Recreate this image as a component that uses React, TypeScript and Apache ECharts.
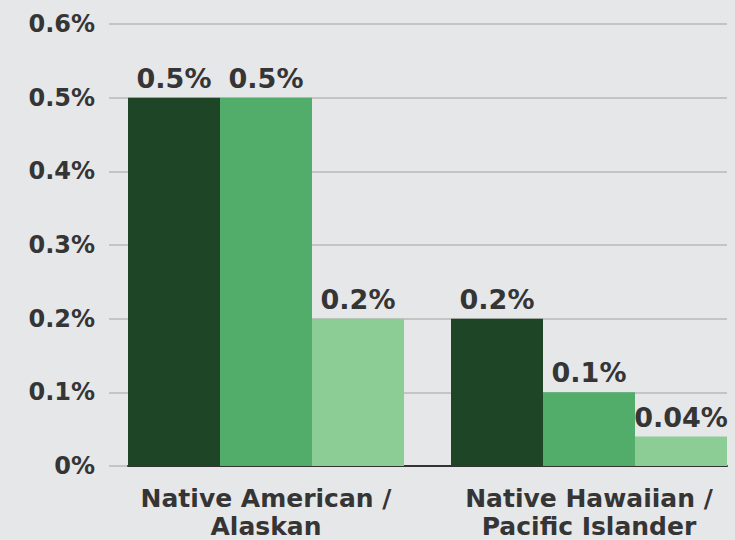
import React, { useEffect, useRef } from "react";
import * as echarts from "echarts";

const categories = ["Native American /\nAlaskan", "Native Hawaiian /\nPacific Islander"];
const seriesA = [0.5, 0.2];
const seriesB = [0.5, 0.1];
const seriesC = [0.2, 0.04];
const yTickLabels = ["0%", "0.1%", "0.2%", "0.3%", "0.4%", "0.5%", "0.6%"];

const colors = ["#1e4626", "#52ad6b", "#8bcd94"];
const textColor = "#353535";
const font = "DejaVu Sans";

export default function App() {
  const ref = useRef<HTMLDivElement>(null);
  useEffect(() => {
    document.body.style.margin = "0";
    const chart = echarts.init(ref.current!, null, { renderer: "svg" });
    const top = 24;
    const bottom = 74;
    const mkSeries = (name: string, data: number[], color: string) => ({
      name,
      type: "bar",
      xAxisIndex: 2,
      yAxisIndex: 2,
      data,
      barWidth: 92,
      barGap: "0%",
      itemStyle: { color },
      label: {
        show: true,
        position: "top",
        distance: 6,
        formatter: (p: any) => `${p.value}%`,
        color: textColor,
        fontFamily: font,
        fontWeight: "bold",
        fontSize: 27,
      },
    });
    chart.setOption({
      animation: false,
      backgroundColor: "#e6e7e9",
      grid: [
        { left: 109, right: 8, top, bottom, outerBoundsMode: "none" },
        { left: 128, right: 8, top, bottom, outerBoundsMode: "none" },
        { left: 104.5, width: 646, top, bottom, outerBoundsMode: "none" },
      ],
      xAxis: [
        { type: "category", gridIndex: 0, data: categories, show: false },
        {
          type: "category",
          gridIndex: 1,
          data: categories,
          axisLine: { show: true, lineStyle: { color: "#333333", width: 2 } },
          axisTick: { show: false },
          axisLabel: { show: false },
        },
        {
          type: "category",
          gridIndex: 2,
          data: categories,
          axisLine: { show: false },
          axisTick: { show: false },
          axisLabel: {
            interval: 0,
            hideOverlap: false,
            color: textColor,
            fontFamily: font,
            fontWeight: "bold",
            fontSize: 25,
            lineHeight: 28,
            margin: 18,
          },
        },
      ],
      yAxis: [
        {
          type: "value",
          gridIndex: 0,
          min: 0,
          max: 0.6,
          interval: 0.1,
          axisLine: { show: false },
          axisTick: { show: false },
          splitLine: { show: true, lineStyle: { color: "#b9b9b9", width: 1.5 } },
          axisLabel: {
            margin: 14,
            color: textColor,
            fontFamily: font,
            fontWeight: "bold",
            fontSize: 24,
            formatter: (v: number) => yTickLabels[Math.round(v * 10)] ?? "",
          },
        },
        { type: "value", gridIndex: 1, min: 0, max: 0.6, show: false },
        { type: "value", gridIndex: 2, min: 0, max: 0.6, show: false },
      ],
      series: [
        mkSeries("A", seriesA, colors[0]),
        mkSeries("B", seriesB, colors[1]),
        mkSeries("C", seriesC, colors[2]),
      ],
    });
    return () => chart.dispose();
  }, []);
  return <div ref={ref} style={{ width: 735, height: 540 }} />;
}
